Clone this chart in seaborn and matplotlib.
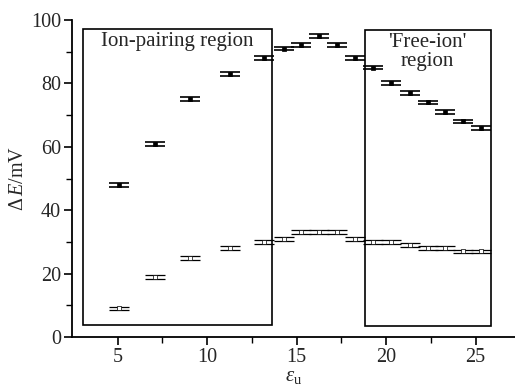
import numpy as np
import matplotlib
matplotlib.use("Agg")
import matplotlib.pyplot as plt
import seaborn as sns
import pandas as pd
from matplotlib.patches import Rectangle

# data
eps = [5.1, 7.1, 9.05, 11.25, 13.2, 14.3, 15.25, 16.25, 17.25, 18.25,
       19.25, 20.3, 21.35, 22.35, 23.3, 24.3, 25.3]
upper = [48, 61, 75, 83, 88, 91, 92, 95, 92, 88, 85, 80, 77, 74, 71, 68, 66]
lower = [9, 19, 25, 28, 30, 31, 33, 33, 33, 31, 30, 30, 29, 28, 28, 27, 27]
err_upper = [0.6] * len(eps)
err_lower = [0.6] * len(eps)

ion_box = [3.05, 3.8, 13.6, 97.2]     # x0, y0, x1, y1
free_box = [18.8, 3.6, 25.85, 97.0]
ion_label = "Ion-pairing region"
free_label = "'Free-ion'\nregion"

sns.set_style("ticks")
plt.rcParams['font.family'] = ['Liberation Serif', 'DejaVu Serif']
plt.rcParams['mathtext.fontset'] = 'custom'
plt.rcParams['mathtext.rm'] = 'Liberation Serif'
plt.rcParams['mathtext.it'] = 'Liberation Serif:italic'

fig = plt.figure(figsize=(5.15, 3.88), dpi=100)
ax = fig.add_axes([72/515, 51/388, 443/515, 317/388])

df = pd.DataFrame({"eps": eps, "upper": upper, "lower": lower})

ax.errorbar(eps, upper, yerr=err_upper, fmt='none', ecolor='black',
            elinewidth=1.0, capsize=7, capthick=1.2, zorder=3)
ax.errorbar(eps, lower, yerr=err_lower, fmt='none', ecolor='black',
            elinewidth=0.8, capsize=7, capthick=0.9, zorder=3)
sns.scatterplot(data=df, x="eps", y="upper", ax=ax, marker='s', s=9,
                color='black', edgecolor='black', linewidth=0.5, zorder=4)
sns.scatterplot(data=df, x="eps", y="lower", ax=ax, marker='s', s=9,
                facecolor='white', edgecolor='black', linewidth=0.5, zorder=4)

for (x0, y0, x1, y1) in (ion_box, free_box):
    ax.add_patch(Rectangle((x0, y0), x1 - x0, y1 - y0, fill=False,
                           edgecolor='black', linewidth=1.2, zorder=2))

ax.text((ion_box[0] + ion_box[2]) / 2, ion_box[3] - 1.0, ion_label,
        ha='center', va='top', fontsize=15)
ax.text((free_box[0] + free_box[2]) / 2, free_box[3] - 1.0, free_label,
        ha='center', va='top', fontsize=15, linespacing=1.0)

ax.set_xlim(2.45, 27.2)
ax.set_ylim(0, 100)
ax.set_xticks([5, 10, 15, 20, 25])
ax.set_xticks([7.5, 12.5, 17.5, 22.5], minor=True)
ax.set_yticks([0, 20, 40, 60, 80, 100])
ax.set_yticks([10, 30, 50, 70, 90], minor=True)
ax.tick_params(axis='both', which='major', direction='out', length=6,
               width=1.2, labelsize=14.5, pad=2, color='black')
ax.tick_params(axis='both', which='minor', direction='out', length=4,
               width=1.0, color='black')
for s in ('top', 'right'):
    ax.spines[s].set_visible(False)
for s in ('left', 'bottom'):
    ax.spines[s].set_linewidth(1.3)
    ax.spines[s].set_color('black')

ax.set_xlabel(r'$\varepsilon_{\mathrm{u}}$', fontsize=15, labelpad=0)
ax.set_ylabel(r'$\Delta\,E$/mV', fontsize=14.5, labelpad=2)

fig.savefig("out.png", dpi=100)
